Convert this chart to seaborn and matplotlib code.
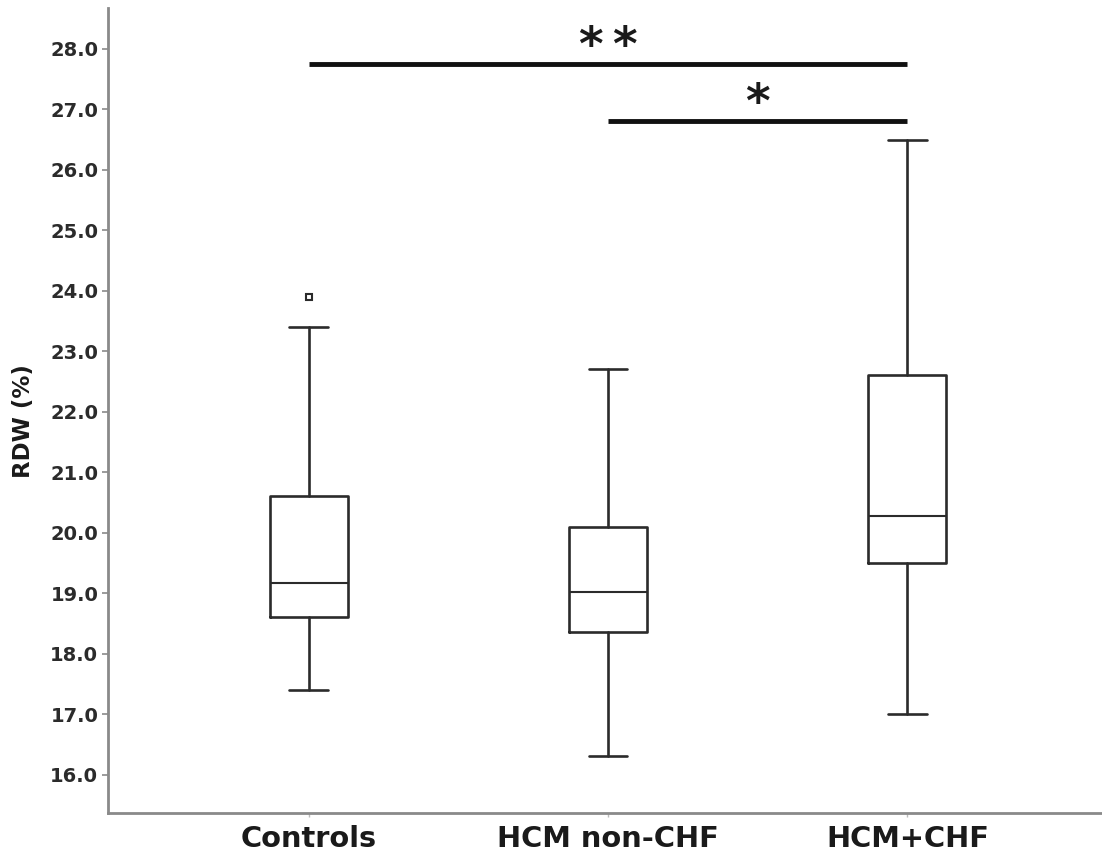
import matplotlib
matplotlib.use("Agg")
import matplotlib.pyplot as plt
import seaborn as sns

# box statistics (RDW %)
groups = ["Controls", "HCM non-CHF", "HCM+CHF"]
whisker_low = [17.4, 16.3, 17.0]
q1 = [18.6, 18.35, 19.5]
median = [19.17, 19.02, 20.27]
q3 = [20.6, 20.1, 22.6]
whisker_high = [23.4, 22.7, 26.5]
outliers = [[23.9], [], []]

yticks = [16.0, 17.0, 18.0, 19.0, 20.0, 21.0, 22.0, 23.0, 24.0, 25.0, 26.0, 27.0, 28.0]

# significance brackets: (from group, to group, height, label)
sig_pairs = [(0, 2, 27.75, "*\u2009*"), (1, 2, 26.8, "*")]

sns.set_style("white")
plt.rcParams["font.family"] = ["DejaVu Sans"]

fig = plt.figure(figsize=(11.02, 8.59), dpi=100)
ax = fig.add_axes([0.098, 0.054, 0.902, 0.937])

stats = []
for i, g in enumerate(groups):
    stats.append({
        "label": g,
        "whislo": whisker_low[i],
        "q1": q1[i],
        "med": median[i],
        "q3": q3[i],
        "whishi": whisker_high[i],
        "fliers": outliers[i],
    })

line = dict(color="#2b2b2b", linewidth=1.9)
ax.bxp(stats, positions=range(len(groups)), widths=0.26, capwidths=0.13,
       boxprops=line, whiskerprops=line, capprops=line,
       medianprops=dict(color="#2b2b2b", linewidth=1.5),
       flierprops=dict(marker="s", markersize=5, markerfacecolor="white",
                       markeredgecolor="#2b2b2b", markeredgewidth=1.5),
       patch_artist=False)

for a, b, h, lab in sig_pairs:
    ax.plot([a, b], [h, h], color="#111111", linewidth=3.5, solid_capstyle="butt")
    ax.text((a + b) / 2, h - 0.1, lab, ha="center", va="bottom",
            fontsize=34, fontweight="bold", color="#1a1a1a")

ax.set_xlim(-0.67, 2.65)
ax.set_ylim(15.37, 28.68)
ax.set_yticks(yticks)
ax.set_yticklabels([f"{t:.1f}" for t in yticks])
ax.set_xticks(range(len(groups)))
ax.set_xticklabels(groups)

sns.despine(ax=ax)
for s in ["left", "bottom"]:
    ax.spines[s].set_color("#8a8a8a")
    ax.spines[s].set_linewidth(2.0)

ax.tick_params(axis="y", direction="out", length=4, width=1.2, color="#8a8a8a",
               labelsize=14, labelcolor="#2b2b2b", pad=3, left=True)
ax.tick_params(axis="x", direction="out", length=3, width=1.0, color="#bbbbbb",
               labelsize=20.8, labelcolor="#1a1a1a", pad=6, bottom=True)
for t in ax.get_yticklabels():
    t.set_fontweight("bold")
for t in ax.get_xticklabels():
    t.set_fontweight("bold")

ax.set_ylabel("RDW (%)", fontsize=16.5, fontweight="bold", color="#1a1a1a")
ax.yaxis.set_label_coords(-0.073, 0.487)
ax.set_xlabel("")

fig.savefig("out.png", dpi=100)
